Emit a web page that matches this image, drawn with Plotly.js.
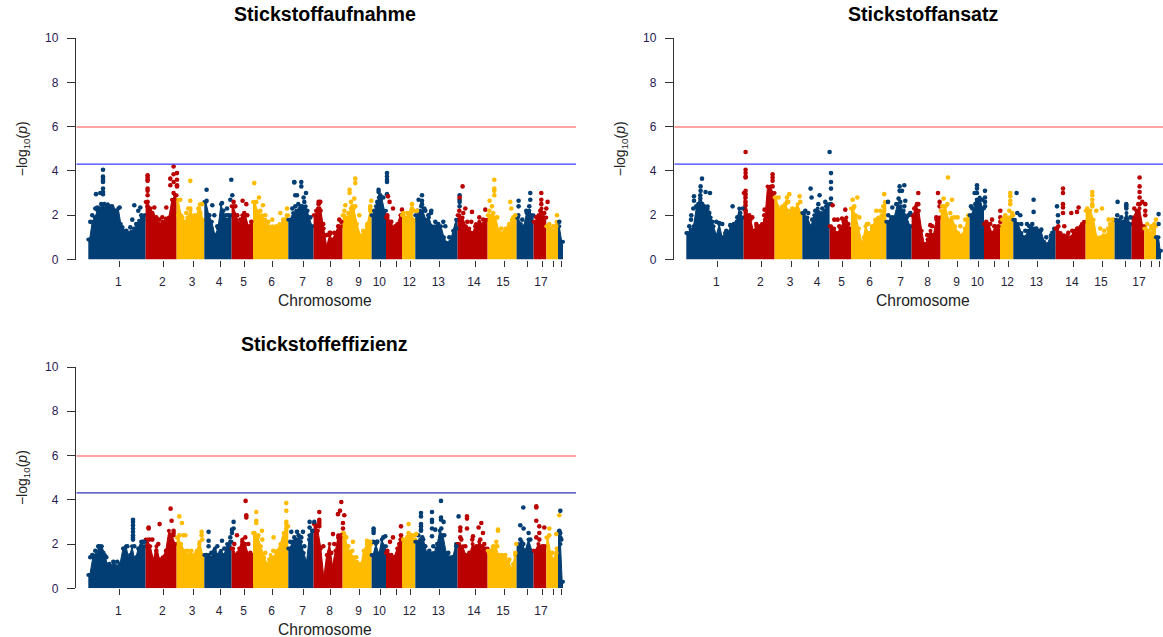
<!DOCTYPE html>
<html><head><meta charset="utf-8">
<script src="https://cdn.plot.ly/plotly-3.0.1.min.js"></script>
<style>html,body{margin:0;padding:0;background:#fff}#c{width:1163px;height:637px}</style>
</head><body><div id="c"></div>
<script>
const panelTitles = ['Stickstoffaufnahme','Stickstoffansatz','Stickstoffeffizienz'];
const chromBounds = [12,69.3,100.3,128,155.3,176.7,212,237.3,266.3,295.3,309.7,325.7,339,381.3,411.3,440.3,457.3,470,481.7,486.7];
const tickPos = [43,87,116.7,143.7,168.3,196.3,227.3,254.3,283.3,304,320,334,363,398.7,427.7,450.7,465.7,477.3,484.7];
const tickText = ['1','2','3','4','5','6','7','8','9','10','','12','13','14','15','','17','',''];
const seriesColours = ['#023e73','#bb0000','#ffbb00'];
const thresholds = [5.98,4.31];

// upper edge of the dense cloud, per chromosome, left to right
const aufnahmeTop = [
 [0.9,1.7,1.9,2.2,2.3,2.35,2.3,2.5,2.4,2.3,2.2,2.3,1.6,1.3,1.15,1.2,1.25,1.4,1.6,1.75,1.9,2.0],
 [2.6,2.2,2.0,1.8,1.6,1.7,1.85,1.9,2.7,2.9],
 [2.7,2.0,1.7,1.9,2.2,1.9,2.0,2.5,1.8],
 [2.6,2.0,1.7,1.1,1.4,2.5,2.0,1.8,2.0],
 [2.4,2.0,1.6,2.0,2.0,1.5,1.7],
 [2.6,2.1,2.0,1.8,1.5,1.5,1.4,1.6,1.7,2.0],
 [1.8,2.1,2.2,2.3,2.4,2.4,1.9,1.5],
 [2.0,2.3,2.2,1.4,0.6,1.1,0.9,1.2,1.5,1.5],
 [2.0,1.9,2.3,2.3,1.6,1.1,1.2,1.5,2.2],
 [2.0,2.4,2.8,2.8,2.2],
 [1.9,1.7,1.4,1.6,2.0],
 [2.0,1.9,2.1,2.1,1.8],
 [2.0,2.2,2.2,1.8,1.9,1.5,1.5,1.6,1.5,1.0,0.75,0.8,1.3,1.8],
 [2.0,1.9,1.5,1.4,1.2,1.6,1.7,1.6,1.8],
 [2.0,2.0,1.9,1.3,1.2,1.4,1.5,1.8,1.9],
 [1.9,1.6,1.5,2.1,2.2,2.0],
 [1.7,2.0,2.3,1.9],
 [1.5,1.4,1.3,1.7],
 [1.5,0.8]
];
const ansatzTop = [
 [1.2,1.35,1.5,2.35,2.4,2.5,2.4,2.4,1.9,1.5,1.1,1.6,1.0,1.2,1.2,1.5,1.6,1.7,2.3,1.9],
 [3.0,1.9,1.8,1.3,1.5,1.5,1.6,1.8,3.3,3.3,3.0],
 [2.8,2.2,2.4,2.5,2.2,2.2,2.2,2.5,2.1],
 [2.1,1.9,1.5,2.0,2.3,2.1,2.2,2.5],
 [1.5,1.4,1.2,1.4,1.7,1.9,1.4],
 [2.3,2.0,1.4,0.7,1.5,1.2,1.4,1.8,1.9,2.0,2.6],
 [1.7,1.9,1.9,2.5,2.4,2.2,1.9,1.5],
 [2.0,2.4,2.2,1.3,0.6,0.9,1.3,1.1,1.8,1.9],
 [2.2,2.4,1.8,1.9,1.5,1.2,1.1,1.4,2.0],
 [2.0,2.3,2.6,2.8,2.3],
 [1.6,1.6,1.2,1.5,1.4],
 [1.5,1.9,1.9,2.0],
 [1.8,1.6,1.2,1.0,1.3,1.5,1.4,1.3,1.3,0.8,0.7,1.1,1.4],
 [1.4,1.2,1.1,1.1,1.0,1.3,1.4,1.5,1.7],
 [2.2,2.2,1.8,1.0,1.0,1.1,1.1,1.6,1.8],
 [1.8,1.8,1.7,2.1,1.6],
 [1.9,2.2,2.3,1.5],
 [1.4,1.3,1.2,1.5],
 [1.0,1.0,0.4]
];
const effizienzTop = [
 [0.6,1.4,1.5,1.85,1.9,1.5,1.0,1.0,1.2,1.0,1.1,1.8,1.9,1.3,1.9,1.2,1.8,2.1,1.9],
 [2.2,1.9,1.3,1.9,1.3,1.4,1.7,2.6,2.4,2.0],
 [2.3,2.0,1.7,1.5,1.6,1.5,1.7,2.1,1.5],
 [1.5,1.5,1.4,1.8,1.5,1.7,1.5,2.0,2.1],
 [1.8,1.5,1.8,2.2,2.0,1.5,1.5],
 [2.5,2.3,1.9,1.4,1.1,1.5,1.4,1.7,2.0,2.5,2.8],
 [1.8,2.1,2.2,2.2,2.1,1.6,1.2,2.4,2.6],
 [2.9,2.6,1.8,0.5,1.5,2.0,1.0,1.7,2.4,2.4],
 [2.5,1.9,1.6,1.4,1.2,0.9,1.7,2.0,2.0],
 [1.5,2.0,1.5,2.2,1.9],
 [1.6,1.5,1.4,1.8,2.2],
 [2.2,2.2,2.4,2.4,2.2],
 [2.1,2.2,2.2,1.6,1.6,1.6,1.8,2.6,2.4,1.6,1.4,1.4,2.0],
 [2.0,1.9,1.5,1.5,2.0,1.8,2.1,1.9,1.8],
 [1.7,1.8,1.9,1.5,1.5,1.4,1.2,0.9,1.5],
 [2.0,2.1,1.7,2.2,1.7],
 [1.7,2.0,1.9,1.9],
 [2.3,1.6,1.3,1.8],
 [2.5,2.0,0.3]
];

// isolated points: [chromosome, position, [-log10 p values]]
const aufnahmeSpikes = [
 [1,26.7,[4.05,3.75,3.65,3.55,3.5,3.2,3.05,2.95]],[1,19.7,[2.95]],[1,24,[3.0]],[1,30.7,[2.4]],[1,35.7,[2.4]],[1,39,[2.2]],[1,43.3,[2.35]],[1,58,[2.45]],[1,64,[2.35]],
 [2,71.3,[3.8,3.7,3.6,3.55,3.2,3.1,2.9,2.6,2.4]],[2,78,[2.35]],[2,90,[2.35]],[2,94,[3.65,3.35]],[2,97.3,[4.2,3.85,3.5,3.0]],[2,100.7,[3.9,3.6,3.35,3.3]],
 [3,114,[3.55,2.65,2.3]],[3,104,[2.7]],[3,125.7,[2.5]],
 [4,130.3,[3.15,2.65]],[4,136,[2.45]],[4,145.7,[2.55]],[4,155,[3.6]],[4,156,[2.9]],[4,154,[2.7]],[4,150.7,[2.3]],
 [5,157.3,[2.6]],[5,159,[2.4]],[5,166.3,[2.65]],[5,170,[2.5]],
 [6,178,[3.45]],[6,180,[2.6]],[6,182.7,[2.8]],[6,186.7,[2.45]],[6,210.7,[2.3]],[6,204,[2.1]],
 [7,218,[3.5,3.48]],[7,225,[3.5,3.3]],[7,229.7,[3.0]],[7,220.7,[2.9]],[7,227.3,[2.8]],[7,219,[2.9]],
 [8,242.3,[2.6,2.5]],[8,244,[2.6]],[8,253.3,[1.2]],[8,263,[1.8]],
 [9,279,[3.65,3.45]],[9,273.3,[3.15,3.0]],[9,274.7,[2.6]],[9,278,[2.75]],[9,269,[2.45]],[9,295,[2.65]],[9,294,[2.4]],
 [10,310.7,[3.9,3.75,3.6,3.5,2.95]],[10,302.3,[3.15,3.05]],
 [11,311.7,[2.85]],[11,313.3,[2.6]],[11,316.7,[2.3]],[11,325.7,[2.25]],
 [12,335.7,[2.5,2.3]],[12,340.7,[2.2]],
 [13,345.7,[2.9,2.65,2.5]],[13,342.3,[2.7]],[13,349,[2.2]],[13,354.7,[2.1]],[13,383.3,[2.9,2.7,2.6,2.4]],
 [14,386.3,[3.3]],[14,383.3,[2.8]],[14,389,[2.3]],[14,395.7,[2.15]],[14,409,[2.25]],
 [15,418,[3.6,3.2,3.1,2.9]],[15,413.3,[2.65]],[15,415.7,[2.4]],[15,434,[2.6]],[15,435,[2.3]],[15,439,[2.0]],
 [16,442.3,[2.65,2.4]],[16,454,[3.0,2.7]],
 [17,465,[3.0,2.7,2.5]],[17,471.3,[2.6]],[17,470,[2.3]],
 [18,480.7,[2.0]]
];
const ansatzSpikes = [
 [1,27.7,[3.65]],[1,26.3,[3.3,3.1]],[1,31.3,[3.05]],[1,35.7,[3.0]],[1,19.7,[2.85,2.65]],[1,26,[2.9,2.75,2.6]],[1,16.7,[1.8]],[1,58.3,[2.4]],[1,68.7,[2.3]],
 [2,71.3,[4.85,4.05,3.9,3.75,3.7,3.1,2.95,2.8,2.6,2.45,2.2]],[2,98.3,[3.85,3.7,3.55,3.3]],[2,94.3,[2.5]],[2,90.3,[2.25]],
 [3,115,[2.95]],[3,112.7,[2.8,2.6]],[3,125.3,[2.85]],[3,104.3,[2.8]],
 [4,136.3,[3.2]],[4,137.3,[2.8]],[4,145.3,[2.9]],[4,151,[2.6]],[4,155.3,[4.85]],[4,156.7,[3.9,3.5,3.2,2.75,2.5]],
 [5,158.3,[2.45]],[5,171,[2.25]],[5,163.3,[1.8]],[5,167.7,[1.85]],
 [6,178.3,[2.7]],[6,183,[2.8]],[6,180,[2.4]],[6,210,[2.95]],[6,192.7,[1.6]],[6,202,[2.2]],
 [7,230,[3.35]],[7,225.3,[3.3,3.1]],[7,227.7,[3.1]],[7,224.3,[2.75]],[7,231,[2.65]],[7,213.7,[2.6]],[7,218,[2.35]],[7,236,[2.1]],
 [8,244,[3.0]],[8,242.7,[2.5]],[8,263.7,[3.0]],[8,265.3,[2.6,2.4]],[8,256,[1.55]],[8,251.7,[0.7]],
 [9,273.7,[3.7]],[9,269.3,[2.75]],[9,277.7,[2.7]],[9,271,[2.4]],[9,283.3,[1.9]],
 [10,302.7,[3.35,3.2,3.0,2.7]],[10,310.7,[3.1,2.8,2.6,2.4]],[10,300.3,[3.0]],[10,296.7,[2.4]],
 [11,317.7,[1.8]],[11,326,[2.2,1.9,1.7]],
 [12,336,[3.0,2.85,2.65,2.5]],[13,342.3,[3.0]],
 [13,359.3,[2.7,2.15]],[13,346,[2.0]],[13,352.7,[1.6]],[13,382.7,[2.4]],[13,383.7,[2.0,1.7]],
 [14,388.7,[3.2,3.0,2.5,2.35,2.1]],[14,404.3,[2.35]],[14,397,[2.1]],[14,402.7,[2.15]],
 [15,418,[3.05,2.9,2.7,2.5]],[15,427.7,[2.3]],[15,434.3,[1.8]],
 [16,443.3,[2.6]],[16,452,[2.5,2.4]],
 [17,465.3,[3.7,3.3,3.05,2.8,2.5]],[17,471,[2.5,2.2]],
 [18,477,[1.5]],[18,481.7,[1.8]],
 [19,484.3,[2.05,1.6]]
];
const effizienzSpikes = [
 [1,56.7,[3.1,3.0,2.85,2.7,2.55,2.4,2.3,2.2]],
 [2,72.3,[2.75,2.7]],[2,83.3,[2.9]],[2,94.3,[3.6]],[2,95.3,[3.05]],[2,97.3,[2.6,2.5]],
 [3,103,[3.25]],[3,105.7,[2.95]],[3,109,[2.4]],[3,125.3,[2.55,2.4]],
 [4,132.3,[2.55,2.15,1.9]],[4,145.7,[2.15]],[4,157.3,[3.0,2.7]],[4,155.7,[2.65,2.5]],
 [5,169.3,[3.95]],[5,170,[3.3,3.2]],[5,160.7,[2.4]],
 [6,180,[3.45,3.05,2.95]],[6,185.7,[2.6]],[6,197.3,[2.3]],[6,210,[3.85,3.5,3.0,2.9,2.7]],
 [7,233.3,[3.0,2.75]],[7,238,[3.0]],[7,215,[2.55]],[7,220.7,[2.55]],[7,226.7,[2.55]],[7,222.3,[2.4]],
 [8,243,[3.45,3.1,3.0,2.8]],[8,265,[3.9]],[8,263.7,[3.5]],[8,261.7,[3.35]],[8,268,[3.3]],[8,266.7,[2.95,2.7]],[8,256.7,[2.45]],
 [9,276.7,[2.1]],[9,290.7,[2.15]],[9,270,[2.3]],
 [10,297.3,[2.7,2.6,2.5]],[10,309,[2.35]],[10,300.7,[2.1]],
 [11,316.7,[2.3]],[11,313.7,[2.1]],[11,324.7,[2.8,2.4,2.2]],
 [12,332.3,[2.9,2.5]],[12,340,[2.45]],
 [13,344.7,[3.4,3.25,2.9,2.8,2.65,2.6]],[13,364.7,[3.95,3.2,3.1]],[13,355.7,[3.45,3.1,3.0,2.7,2.35]],[13,359,[2.65]],[13,367.3,[3.0]],[13,382.3,[3.25]],
 [14,390.7,[3.25,3.15,2.7]],[14,384,[2.75,2.6,2.3]],[14,405,[2.95]],[14,402.3,[2.75]],[14,406.7,[2.5]],[14,396.7,[2.35]],
 [15,421.7,[2.65,2.6]],[15,420,[2.1]],[15,440,[2.0]],
 [16,447,[3.65]],[16,444,[2.85]],[16,447.3,[2.7]],[16,452.3,[2.5]],
 [17,460,[3.7,3.65,3.05]],[17,463,[2.8,2.5]],[17,468,[2.75]],
 [18,473,[2.7]],[18,480,[2.45]],[18,483,[3.3]],
 [19,484,[3.5,2.5,2.3]]
];

// points on the rough top of the cloud: one list per chromosome, position then value
const aufnahmeFringe = [
 [14,1.7,16,2.0,19,2.3,21,2.35,23,2.3,25,2.5,28,2.5,30,2.2,32,2.3,34,2.1,37,2.2,40,2.0,41,1.7,44,1.3,46,1.45,50,1.3,54,1.45,56,1.8,60,1.6,62,2.2,65,2.0,67,1.8],
 [74,2.3,76,2.1,80,1.9,83,1.8,86,1.9,92,1.85,95,2.0,98,2.7],
 [102,2.0,106,1.9,110,2.1,112,2.3,118,2.0,122,2.3,124,2.1],
 [133,2.0,138,2.0,141,1.5,143,1.2,147,2.2,150,2.0,152,2.0],
 [161,2.0,164,1.8,168,2.1,171,2.0,175,1.7],
 [184,2.2,189,2.0,192,1.7,196,1.8,200,1.5,207,1.8],
 [216,2.3,219,2.4,222,2.5,225,2.4,228,2.6,231,2.2,234,1.9],
 [240,2.2,243,2.3,247,1.6,250,1.1,254,1.2,258,1.2,262,1.5,265,1.7],
 [268,2.2,272,2.1,276,2.4,279,2.4,283,2.0,287,1.3,291,1.6,294,2.3],
 [298,2.2,301,2.6,304,2.9,307,2.8],
 [311,2.0,315,1.7,319,1.5,323,1.6],
 [327,2.1,331,2.1,335,2.2,338,2.2],
 [341,2.2,345,2.4,348,2.3,352,2.0,355,2.2,359,1.7,362,1.6,367,1.7,369,1.5,373,1.0,378,0.9,380,1.4],
 [383,2.2,387,2.1,391,1.7,395,1.7,399,1.5,403,1.9,407,1.8],
 [413,2.2,417,2.1,421,1.9,425,1.4,429,1.3,433,1.6,437,1.9],
 [442,2.0,446,1.8,450,2.2,453,2.4],
 [460,1.9,464,2.2,468,2.1],
 [473,1.6,477,1.5,480,1.5],
 [483,1.7]
];
const ansatzFringe = [
 [15,1.5,17,2.0,19,2.3,22,2.4,24,2.5,28,2.5,30,2.3,33,2.3,35,2.1,38,1.7,42,1.7,45,1.65,48,1.6,52,1.3,56,1.55,60,1.6,63,1.9,66,2.1],
 [75,2.0,78,1.9,82,1.6,86,1.5,90,2.0,92,1.9,96,2.2],
 [103,2.4,107,2.3,111,2.5,114,2.6,118,2.3,122,2.3,126,2.6],
 [131,2.2,134,2.1,138,1.8,141,2.2,144,2.5,148,2.3,152,2.4],
 [160,1.8,165,1.5,170,1.8,174,1.6],
 [179,2.3,185,1.9,190,1.0,194,1.6,198,1.5,203,1.8,206,2.2,209,2.4],
 [214,2.0,218,1.9,222,2.5,226,2.6,230,2.4,234,2.0],
 [240,2.3,244,2.5,253,1.1,258,1.5,262,1.9],
 [268,2.4,273,2.5,276,2.1,280,1.9,286,1.5,291,1.8],
 [298,2.3,301,2.5,305,2.7,308,2.7],
 [312,1.7,316,1.6,320,1.5,324,1.5],
 [328,1.8,331,2.0,335,2.2,338,2.1],
 [343,2.1,347,1.6,351,1.3,355,1.5,358,1.6,362,1.4,367,1.35,372,1.0,378,1.2],
 [384,1.5,390,1.5,394,1.2,398,1.3,403,1.4,408,1.6],
 [413,2.3,418,2.4,422,2.2,426,1.4,430,1.3,434,1.4,438,1.8],
 [443,2.0,447,1.9,452,2.3,456,1.9],
 [460,2.3,464,2.5,468,2.6,471,2.0],
 [473,1.6,477,1.4,480,1.6],
 []
];
const effizienzFringe = [
 [14,1.4,16,1.5,19,1.7,22,1.9,24,1.9,27,1.6,30,1.4,33,1.1,37,1.2,41,1.2,44,1.0,48,1.8,51,1.9,54,1.5,58,1.9,60,1.4,62,1.3,66,2.1,68,2.1],
 [73,2.2,76,2.2,80,1.7,82,2.0,85,1.3,90,1.7,94,1.9,97,2.4],
 [103,2.4,107,2.4,111,1.7,115,1.7,120,1.6,123,2.0,126,2.2],
 [130,1.5,135,1.6,138,1.7,141,1.9,144,1.6,148,1.8,151,1.7,154,2.3],
 [158,2.0,162,1.6,166,2.1,169,2.3,172,2.0,174,1.6],
 [178,2.5,182,2.4,186,2.2,189,1.6,193,1.3,197,1.7,200,1.6,204,1.8,207,2.2,209,2.5],
 [214,2.1,218,2.3,222,2.2,225,2.3,228,1.9,231,1.2,233,2.2,236,2.6],
 [240,2.8,243,2.9,247,1.9,251,1.0,255,1.6,258,2.0,262,2.3,265,2.4],
 [268,2.4,272,1.9,276,1.7,280,1.4,284,1.1,288,1.4,291,2.0,294,2.1],
 [297,2.1,301,2.1,304,1.6,307,2.3],
 [311,1.7,315,1.5,319,1.4,323,2.0],
 [327,2.2,331,2.3,335,2.4,338,2.4],
 [342,2.4,346,2.3,349,1.9,353,1.7,357,1.9,361,2.0,365,2.7,368,2.4,372,1.6,376,1.4,380,1.9],
 [385,2.2,389,1.9,393,1.6,396,2.2,400,1.9,404,2.2,408,2.0],
 [413,1.6,417,1.9,421,1.9,425,1.5,429,1.5,433,1.3,437,1.1,439,1.6],
 [444,2.2,447,2.0,451,1.7,454,2.2],
 [460,2.3,463,2.2,467,1.9],
 [473,2.4,476,1.6,480,1.6],
 [483,2.6,485,2.2]
];

const panelTop = [aufnahmeTop, ansatzTop, effizienzTop];
const panelSpikes = [aufnahmeSpikes, ansatzSpikes, effizienzSpikes];
const panelFringe = [aufnahmeFringe, ansatzFringe, effizienzFringe];

// page geometry of the three plot frames, in pixels of the 1163x637 page
const W = 1163, H = 637;
const frames = [
 {l:76.3, r:576,  t:38,  b:259.5, xmax:499.7, titleX:325,   titleY:14,  xTitleX:325,   xTitleY:300},
 {l:674.3,r:1163, t:38,  b:259.5, xmax:488.7, titleX:922.5, titleY:14,  xTitleX:922.5, xTitleY:300},
 {l:76.3, r:576,  t:367, b:588.3, xmax:499.7, titleX:324.5, titleY:344, xTitleX:325,   xTitleY:629}
];
const lowerLineColours = ['#3c3cff','#3c3cff','#3232c0'];

const traces = [];
const layout = {
  width:W, height:H, margin:{l:0,r:0,t:0,b:0}, showlegend:false,
  paper_bgcolor:'#fff', plot_bgcolor:'#fff',
  font:{family:'"Liberation Sans",Arial,sans-serif', color:'#262338'},
  annotations:[], shapes:[]
};

frames.forEach((f,p)=>{
  const sfx = p===0 ? '' : String(p+1);
  const xa = 'x'+sfx, ya = 'y'+sfx;
  layout['xaxis'+sfx] = {
    domain:[f.l/W,f.r/W], range:[0,f.xmax], anchor:ya,
    showgrid:false, zeroline:false, showline:false,
    tickmode:'array', tickvals:tickPos, ticktext:tickText,
    ticks:'outside', ticklen:6, tickwidth:1, tickcolor:'#333',
    tickfont:{size:12,color:'#262338'}, ticklabelstandoff:5, ticklabelshift:-1
  };
  layout['yaxis'+sfx] = {
    domain:[1-f.b/H,1-f.t/H], range:[0,10], anchor:xa,
    showgrid:false, zeroline:false, showline:true, linewidth:1.5, linecolor:'#333',
    tickmode:'array', tickvals:[0,2,4,6,8,10], ticktext:['0','2','4','6','8','10'],
    ticks:'outside', ticklen:8, tickwidth:1, tickcolor:'#333',
    tickfont:{size:12,color:'#2a1a55'}, ticklabelstandoff:6,
    title:{text:'−log<sub>10</sub>(<i>p</i>)', font:{size:14,color:'#222'}, standoff:14}
  };
  panelTop[p].forEach((top,c)=>{
    const s = chromBounds[c], e = chromBounds[c+1], n = top.length;
    const xs = [s], ys = [top[0]];
    top.forEach((h,i)=>{ xs.push(s+(i+0.5)/n*(e-s)); ys.push(h); });
    xs.push(e); ys.push(top[n-1]);
    const col = seriesColours[c%3];
    traces.push({type:'scatter',mode:'lines+markers',x:xs,y:ys,xaxis:xa,yaxis:ya,
      fill:'tozeroy',fillcolor:col,line:{color:col,width:1},marker:{color:col,size:4},
      hoverinfo:'skip',name:'Chr '+(c+1)});
  });
  const groups = seriesColours.map(()=>({x:[],y:[]}));
  panelFringe[p].forEach((list,c)=>{
    for(let i=0;i<list.length;i+=2){ groups[c%3].x.push(list[i]); groups[c%3].y.push(list[i+1]); }
  });
  panelSpikes[p].forEach(([chr,pos,vals])=>{
    vals.forEach(v=>{ groups[(chr-1)%3].x.push(pos); groups[(chr-1)%3].y.push(v); });
  });
  groups.forEach((g,i)=>traces.push({type:'scatter',mode:'markers',x:g.x,y:g.y,xaxis:xa,yaxis:ya,
    marker:{color:seriesColours[i],size:4.6},hoverinfo:'skip'}));
  layout.shapes.push(
    {type:'line',xref:xa,yref:ya,x0:0,x1:f.xmax,y0:thresholds[0],y1:thresholds[0],line:{color:'#ff8585',width:1.6}},
    {type:'line',xref:xa,yref:ya,x0:0,x1:f.xmax,y0:thresholds[1],y1:thresholds[1],line:{color:lowerLineColours[p],width:1.3}}
  );
  layout.annotations.push(
    {text:'<b>'+panelTitles[p]+'</b>',xref:'paper',yref:'paper',x:f.titleX/W,y:1-f.titleY/H,xanchor:'center',yanchor:'middle',showarrow:false,font:{size:19.6,color:'#000'}},
    {text:'Chromosome',xref:'paper',yref:'paper',x:f.xTitleX/W,y:1-f.xTitleY/H,xanchor:'center',yanchor:'middle',showarrow:false,font:{size:15.6,color:'#222'}}
  );
});
Plotly.newPlot('c',traces,layout,{displayModeBar:false,staticPlot:true});
</script></body></html>
